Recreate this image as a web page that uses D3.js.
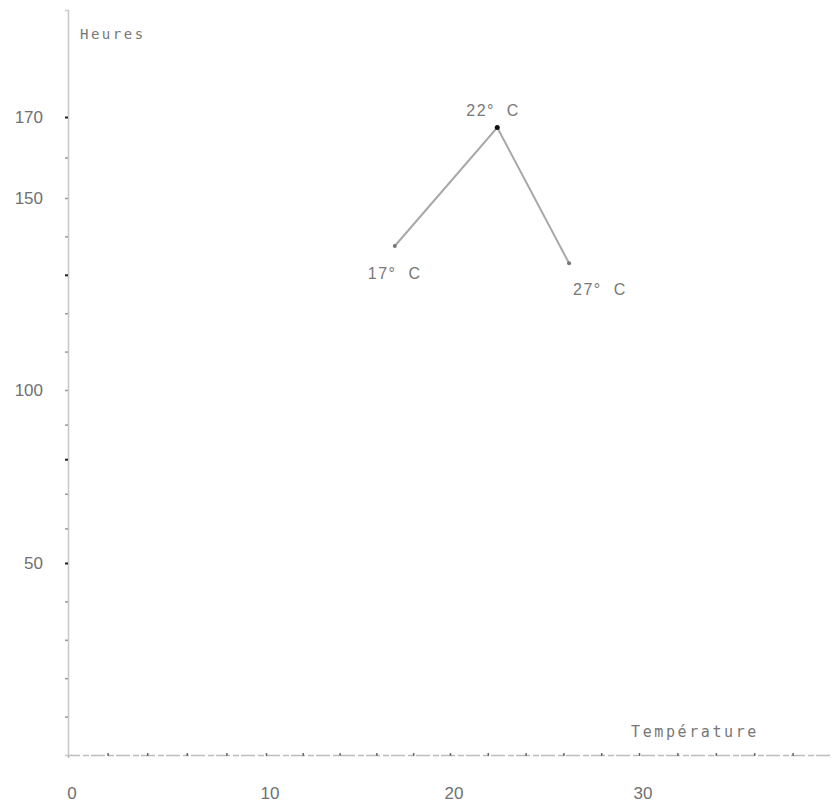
<!DOCTYPE html>
<html><head><meta charset="utf-8">
<script src="https://cdn.jsdelivr.net/npm/d3@7"></script>
<style>
html,body{margin:0;padding:0;background:#fff;}
svg{display:block;}
</style></head>
<body>
<svg id="chart" width="831" height="805"></svg>
<script>
// Data
const temperatures = [17.0, 22.5, 26.3];
const hours = [137.5, 167.4, 133];
const pointLabels = ["17° C", "22° C", "27° C"];
const xTickLabels = [0, 10, 20, 30];
const yTickLabels = [50, 100, 150, 170];
const yMinorTicks = [10,20,30,40,50,60,70,80,90,100,110,120,130,140,150,160,170];
const xMinorTicks = [2,4,6,8,10,12,14,16,18,20,22,24,26,28,30,32,34,36,38];
const xTitle = "Température";
const yTitle = "Heures";

const svg = d3.select("#chart");
// hand-drawn axes: piecewise linear spacing
const x = d3.scaleLinear().domain([0, 10, 20, 30, 40]).range([68, 266, 450, 639, 831]);
const y = d3.scaleLinear().domain([0, 50, 100, 150, 170, 196]).range([755, 563, 390, 198, 117, 10]);

const font = "'Liberation Sans', Arial, sans-serif";
const mono = "'DejaVu Sans Mono', monospace";

// Y axis
const yAxis = svg.append("g").attr("transform", `translate(${x(0)},0)`)
  .call(d3.axisLeft(y).tickValues(yMinorTicks).tickSize(3).tickFormat(""));
yAxis.select(".domain").attr("stroke", "#cacaca").attr("stroke-width", 1.6);
yAxis.selectAll(".tick line").attr("stroke", "#999").attr("stroke-width", 1.5);
yAxis.selectAll(".tick").filter(d => [170, 130, 80, 50].includes(d)).select("line")
  .attr("stroke", "#222").attr("stroke-width", 2);

// X axis
const xAxis = svg.append("g").attr("transform", `translate(0,${y(0)})`)
  .call(d3.axisBottom(x).tickValues(xMinorTicks).tickSize(3).tickFormat(""));
xAxis.select(".domain").attr("stroke", "#bdbdbd").attr("stroke-width", 1.6)
  .attr("stroke-dasharray", "14,3,6,2");
xAxis.selectAll(".tick line").attr("stroke", "#666").attr("stroke-width", 1.5)
  .attr("transform", "translate(0,-2)");

// Y tick labels
svg.append("g").selectAll("text").data(yTickLabels).join("text")
  .attr("x", 43).attr("y", d => y(d)).attr("dy", "0.36em")
  .attr("text-anchor", "end").attr("font-family", font).attr("font-size", 17)
  .attr("fill", "#707070").text(d => d);

// X tick labels
svg.append("g").selectAll("text").data(xTickLabels).join("text")
  .attr("x", d => x(d) + 4).attr("y", 799)
  .attr("text-anchor", "middle").attr("font-family", font).attr("font-size", 17)
  .attr("fill", "#707070").text(d => d);

// Axis titles
svg.append("text").attr("x", 80).attr("y", 39).attr("font-family", mono)
  .attr("font-size", 14).attr("letter-spacing", 2.5).attr("fill", "#777").text(yTitle);
svg.append("text").attr("x", 631).attr("y", 737).attr("font-family", mono)
  .attr("font-size", 15).attr("letter-spacing", 2.6).attr("fill", "#777").text(xTitle);

// Line
const pts = temperatures.map((t, i) => ({t, h: hours[i], label: pointLabels[i]}));
svg.append("path").datum(pts)
  .attr("d", d3.line().x(d => x(d.t)).y(d => y(d.h)))
  .attr("fill", "none").attr("stroke", "#a8a8a8").attr("stroke-width", 2);

svg.append("g").selectAll("circle").data(pts).join("circle")
  .attr("cx", d => x(d.t)).attr("cy", d => y(d.h))
  .attr("r", (d, i) => i === 1 ? 2.5 : 2)
  .attr("fill", (d, i) => i === 1 ? "#111" : "#777");

// Point labels
const labelOffsets = [[-27, 33], [-31, -12], [4, 32]];
svg.append("g").selectAll("text").data(pts).join("text")
  .attr("x", (d, i) => x(d.t) + labelOffsets[i][0])
  .attr("y", (d, i) => y(d.h) + labelOffsets[i][1])
  .attr("font-family", font).attr("font-size", 16).attr("letter-spacing", 1.5)
  .attr("fill", "#777")
  .attr("xml:space", "preserve").style("white-space", "pre")
  .text(d => d.label.replace(" ", "  "));
</script>
</body></html>
